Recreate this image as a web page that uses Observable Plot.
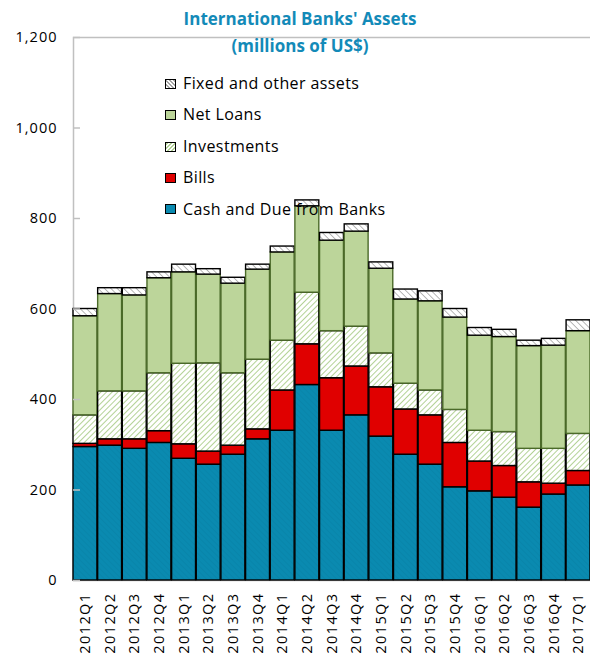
<!DOCTYPE html>
<html>
<head>
<meta charset="utf-8">
<script src="https://cdn.jsdelivr.net/npm/d3@7"></script>
<script src="https://cdn.jsdelivr.net/npm/@observablehq/plot@0.6"></script>
<style>
  body { margin: 0; background: #fff; }
  #wrap { position: relative; width: 590px; height: 658px; font-family: "Open Sans", sans-serif; overflow: hidden; }
  .ttl { position: absolute; left: 0; width: 600px; text-align: center; color: #138ab8; font-weight: bold; font-size: 17px; line-height: 20px; white-space: nowrap; }
  .leg { position: absolute; left: 165px; font-size: 16px; letter-spacing: 0.4px; line-height: 20px; color: #000; white-space: nowrap; }
  .leg .sw { display: inline-block; width: 9px; height: 8px; border: 1px solid #000; vertical-align: middle; margin-right: 7px; position: relative; top: -1px; }
  #wrap svg [aria-label="x-axis tick label"] text { letter-spacing: 1.4px; }
  #wrap svg [aria-label="y-axis tick label"] text { letter-spacing: 1px; }
</style>
</head>
<body>
<div id="wrap"></div>
<script>
const quarters = ["2012Q1","2012Q2","2012Q3","2012Q4","2013Q1","2013Q2","2013Q3","2013Q4",
  "2014Q1","2014Q2","2014Q3","2014Q4","2015Q1","2015Q2","2015Q3","2015Q4",
  "2016Q1","2016Q2","2016Q3","2016Q4","2017Q1"];
const cash        = [295,298,291,304,269,256,278,312,331,432,331,365,318,278,256,206,197,183,161,190,210];
const bills       = [7,14,21,26,32,29,20,22,89,90,116,108,109,100,109,98,66,70,56,24,32];
const investments = [63,106,106,128,178,195,160,154,110,114,104,88,75,57,55,73,68,75,74,77,82];
const netLoans    = [219,215,212,210,202,196,198,199,195,191,200,210,187,186,197,204,210,210,227,228,227];
const fixedOther  = [16,13,16,13,17,12,13,11,13,13,17,16,14,22,22,19,17,16,12,15,24];
const seriesNames = ["Cash and Due from Banks","Bills","Investments","Net Loans","Fixed and other assets"];
const yTicks = [0,200,400,600,800,1000,1200];
const titleText = "International Banks' Assets";
const subtitleText = "(millions of US$)";

const seriesValues = [cash, bills, investments, netLoans, fixedOther];
const rows = quarters.flatMap((q, i) => seriesNames.map((s, j) => ({quarter: q, series: s, value: seriesValues[j][i]})));

const fills = ["url(#pCash)", "#e00000", "url(#pInv)", "#bcd59a", "url(#pFix)"];
const strokes = {"Net Loans": "#4b6a29"};

function defsMark() {
  const ns = "http://www.w3.org/2000/svg";
  const defs = document.createElementNS(ns, "defs");
  defs.innerHTML = `
    <pattern id="pCash" patternUnits="userSpaceOnUse" width="4" height="4" patternTransform="rotate(-45)">
      <rect width="4" height="4" fill="#0a8ab0"></rect>
      <line x1="0" y1="0" x2="0" y2="4" stroke="#0780a5" stroke-width="1"></line>
    </pattern>
    <pattern id="pInv" patternUnits="userSpaceOnUse" width="4" height="4" patternTransform="rotate(45)">
      <rect width="4" height="4" fill="#ffffff"></rect>
      <line x1="0" y1="0" x2="0" y2="4" stroke="#b3d296" stroke-width="2"></line>
    </pattern>
    <pattern id="pFix" patternUnits="userSpaceOnUse" width="4.5" height="4.5" patternTransform="rotate(-45)">
      <rect width="4.5" height="4.5" fill="#ffffff"></rect>
      <line x1="0" y1="0" x2="0" y2="4.5" stroke="#a6a6a6" stroke-width="1.6"></line>
    </pattern>`;
  return defs;
}

const chart = Plot.plot({
  width: 590,
  height: 658,
  marginTop: 37,
  marginLeft: 73,
  marginRight: 0,
  marginBottom: 78,
  style: {fontFamily: "'Open Sans', sans-serif", fontSize: "14px", color: "#000", background: "#fff"},
  x: {domain: quarters, paddingInner: 0.03, paddingOuter: 0, round: false, label: null},
  y: {domain: [0, 1200], label: null},
  color: {domain: seriesNames, range: fills},
  marks: [
    defsMark,
    Plot.frame({stroke: "#c0c0c0", strokeWidth: 1.5, insetRight: -3}),
    Plot.barY(rows, Plot.stackY({
      x: "quarter",
      y: "value",
      fill: "series",
      z: "series",
      order: seriesNames,
      stroke: d => strokes[d.series] || "#000000",
      strokeWidth: 1.4
    })),
    Plot.axisY(yTicks, {tickSize: 7, dx: 7, text: null, stroke: "#c0c0c0", strokeWidth: 1.5}),
    Plot.axisY(yTicks, {tickSize: 0, tickPadding: 16, tickFormat: d3.format(","), fontSize: 14.5}),
    Plot.axisX({tickSize: 0, tickRotate: -90, tickPadding: 12, fontSize: 14.5})
  ]
});

const wrap = document.getElementById("wrap");
wrap.appendChild(chart);

function addDiv(cls, text, top) {
  const d = document.createElement("div");
  d.className = cls;
  d.textContent = text;
  d.style.top = top + "px";
  wrap.appendChild(d);
  return d;
}
addDiv("ttl", titleText, 9);
addDiv("ttl", subtitleText, 36);

const legendOrder = [4, 3, 2, 1, 0];
const swatchCss = [
  "background:#0a8ab0",
  "background:#e00000",
  "background:repeating-linear-gradient(-45deg,#fff 0 1.5px,#b3d296 1.5px 3px)",
  "background:#bcd59a",
  "background:repeating-linear-gradient(45deg,#fff 0 1.5px,#a6a6a6 1.5px 3px)"
];
legendOrder.forEach((j, k) => {
  const d = document.createElement("div");
  d.className = "leg";
  d.style.top = (73 + k * 31.4) + "px";
  const sw = document.createElement("span");
  sw.className = "sw";
  sw.setAttribute("style", swatchCss[j]);
  d.appendChild(sw);
  d.appendChild(document.createTextNode(seriesNames[j]));
  wrap.appendChild(d);
});
</script>
</body>
</html>
